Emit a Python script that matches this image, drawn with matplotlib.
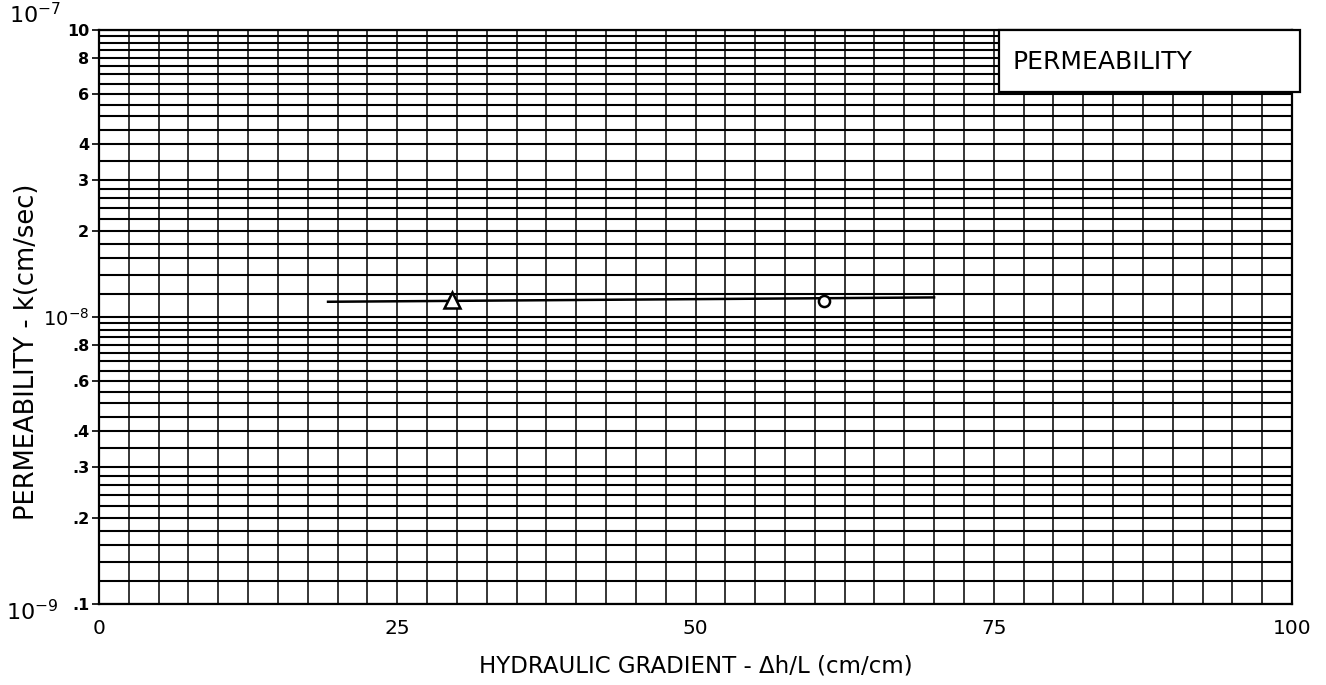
import matplotlib
matplotlib.use("Agg")
import matplotlib.pyplot as plt
from matplotlib.ticker import FixedLocator, MultipleLocator, NullFormatter
from matplotlib.patches import Rectangle

# ---- data ----
tri_x = [29.6]
tri_k = [1.15e-8]
circ_x = [60.8]
circ_k = [1.14e-8]
trend_x = [19.2, 70.0]
trend_k = [1.13e-8, 1.17e-8]

xtick_vals = [0, 25, 50, 75, 100]
xtick_labels = ["0", "25", "50", "75", "100"]
ytick_vals = [1e-9, 2e-9, 3e-9, 4e-9, 6e-9, 8e-9, 1e-8, 2e-8, 3e-8, 4e-8, 6e-8, 8e-8, 1e-7]
ytick_labels = [".1", ".2", ".3", ".4", ".6", ".8", r"$10^{-8}$", "2", "3", "4", "6", "8", "10"]
grid_mantissas = [1.2, 1.4, 1.6, 1.8, 2, 2.2, 2.4, 2.6, 2.8, 3, 3.5, 4, 4.5,
                  5, 5.5, 6, 6.5, 7, 7.5, 8, 8.5, 9, 9.5]
decades = [1e-9, 1e-8]

fig = plt.figure(figsize=(13.26, 6.85), dpi=100)
ax = fig.add_axes([99/1326, 1-604/685, 1193/1326, 574/685])

ax.set_yscale("log")
ax.set_xlim(0, 100)
ax.set_ylim(1e-9, 1e-7)

minor_y = [d*m for d in decades for m in grid_mantissas]
ax.yaxis.set_major_locator(FixedLocator(ytick_vals))
ax.yaxis.set_minor_locator(FixedLocator(minor_y))
ax.set_yticklabels(ytick_labels)
ax.yaxis.set_minor_formatter(NullFormatter())
ax.xaxis.set_major_locator(FixedLocator(xtick_vals))
ax.set_xticklabels(xtick_labels)
ax.xaxis.set_minor_locator(MultipleLocator(2.5))

ax.grid(True, which="both", axis="y", color="black", lw=1.5)
ax.grid(True, which="both", axis="x", color="black", lw=1.1)
ax.set_axisbelow(True)

ax.tick_params(axis="y", which="major", length=5, width=1.2, pad=2,
               labelsize=11.5, direction="out")
for lab in ax.get_yticklabels():
    if "10^" in lab.get_text():
        lab.set_fontsize(14)
    else:
        lab.set_fontweight("bold")
ax.tick_params(axis="y", which="minor", length=0)
ax.tick_params(axis="x", which="both", length=0, pad=11, labelsize=14.5)

for sp in ax.spines.values():
    sp.set_linewidth(1.6)

# trend line and points
ax.plot(trend_x, trend_k, color="black", lw=1.8, zorder=3)
ax.plot(tri_x, tri_k, linestyle="none", marker="^", ms=11, mfc="white",
        mec="black", mew=1.8, zorder=4)
ax.plot(circ_x, circ_k, linestyle="none", marker="o", ms=8, mfc="white",
        mec="black", mew=1.8, zorder=4)

# title box
box = Rectangle((0.754, 0.892), 0.2527, 0.108, transform=ax.transAxes,
                facecolor="white", edgecolor="black", lw=1.6, clip_on=False, zorder=5)
ax.add_patch(box)
ax.text(0.766, 0.944, "PERMEABILITY", transform=ax.transAxes, ha="left",
        va="center", fontsize=18, zorder=6)

# decade labels
fig.text(35/1326, 1-15/685, r"$10^{-7}$", ha="center", va="center", fontsize=16)
fig.text(32/1326, 1-612/685, r"$10^{-9}$", ha="center", va="center", fontsize=16)

ax.set_ylabel("PERMEABILITY - k(cm/sec)", fontsize=18.5)
ax.yaxis.set_label_coords(-0.0495, 0.439)
ax.set_xlabel("HYDRAULIC GRADIENT - Δh/L (cm/cm)", fontsize=16.5)
ax.xaxis.set_label_coords(0.5, -0.088)

fig.savefig("out.png", dpi=100)
